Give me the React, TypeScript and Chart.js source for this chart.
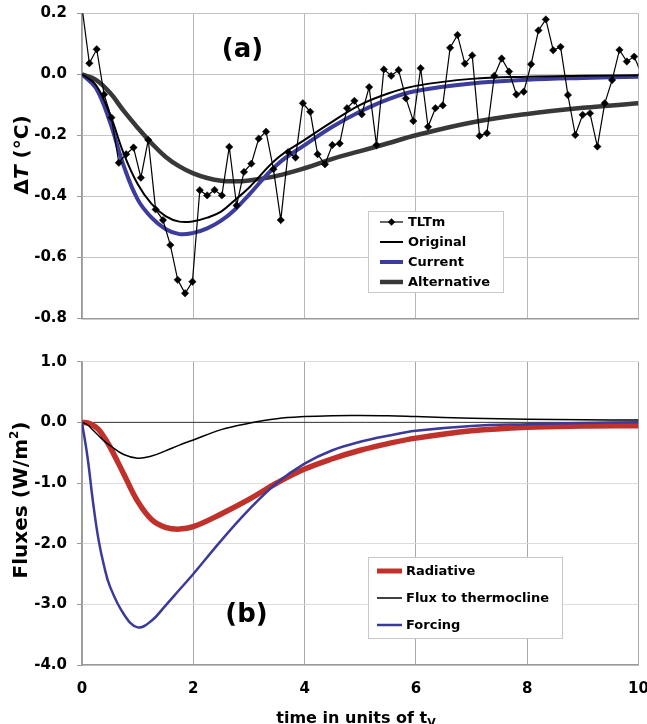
import React, { useEffect, useRef } from "react";
import { Chart, registerables } from "chart.js";

Chart.register(...registerables);

const FONT = "'DejaVu Sans', Verdana, sans-serif";

// ---------- Panel (a): temperature anomaly ----------
// TLTm observations, one value per time step (step in units of t_V)
const TLTM_STEP = 0.1323;
const tltmValues = [
  0.22, 0.036, 0.082, -0.066, -0.142, -0.29, -0.262, -0.24, -0.339, -0.215,
  -0.443, -0.478, -0.56, -0.674, -0.718, -0.68, -0.38, -0.397, -0.379, -0.397,
  -0.238, -0.43, -0.32, -0.293, -0.211, -0.188, -0.311, -0.478, -0.255, -0.273,
  -0.095, -0.123, -0.262, -0.295, -0.232, -0.227, -0.111, -0.087, -0.131, -0.042,
  -0.232, 0.016, -0.005, 0.014, -0.079, -0.153, 0.02, -0.172, -0.111, -0.102,
  0.087, 0.129, 0.035, 0.062, -0.202, -0.193, -0.005, 0.052, 0.009, -0.066,
  -0.057, 0.033, 0.144, 0.18, 0.079, 0.09, -0.068, -0.199, -0.133, -0.128,
  -0.237, -0.095, -0.019, 0.08, 0.042, 0.058, 0.0,
];

// Model curves sampled at these times
const curveTimes = [0, 0.25, 0.5, 0.75, 1, 1.25, 1.5, 1.75, 2, 2.25, 2.5, 2.75, 3, 3.5, 4, 4.5, 5, 5.5, 6, 7, 8, 9, 10];
const originalValues = [0, -0.035, -0.13, -0.26, -0.36, -0.425, -0.465, -0.483, -0.482, -0.47, -0.45, -0.412, -0.372, -0.277, -0.215, -0.155, -0.1, -0.063, -0.038, -0.015, -0.008, -0.005, -0.003];
const currentValues = [0, -0.045, -0.155, -0.3, -0.41, -0.47, -0.507, -0.524, -0.52, -0.505, -0.48, -0.443, -0.395, -0.297, -0.232, -0.172, -0.122, -0.082, -0.055, -0.03, -0.018, -0.012, -0.008];
const alternativeValues = [0, -0.018, -0.06, -0.12, -0.175, -0.226, -0.27, -0.302, -0.325, -0.34, -0.349, -0.351, -0.348, -0.333, -0.308, -0.277, -0.252, -0.226, -0.2, -0.158, -0.13, -0.11, -0.095];

const topTicks = { min: -0.8, max: 0.2, step: 0.2 };

// ---------- Panel (b): fluxes ----------
const fluxTimes = [0, 0.1, 0.2, 0.3, 0.4, 0.5, 0.75, 1, 1.25, 1.5, 1.75, 2, 2.5, 3, 3.5, 4, 4.5, 5, 5.5, 6, 7, 8, 9, 10];
const radiativeValues = [0, -0.01, -0.05, -0.12, -0.25, -0.4, -0.85, -1.3, -1.6, -1.73, -1.76, -1.72, -1.51, -1.27, -1.0, -0.77, -0.6, -0.46, -0.35, -0.26, -0.14, -0.08, -0.06, -0.055];
const thermoclineValues = [0, -0.04, -0.13, -0.22, -0.31, -0.38, -0.53, -0.59, -0.555, -0.47, -0.375, -0.29, -0.12, -0.015, 0.06, 0.095, 0.11, 0.112, 0.108, 0.095, 0.068, 0.05, 0.043, 0.038];
const forcingValues = [0, -0.58, -1.33, -1.95, -2.38, -2.7, -3.16, -3.38, -3.27, -3.02, -2.76, -2.5, -1.95, -1.44, -1.0, -0.68, -0.46, -0.32, -0.22, -0.14, -0.06, -0.03, -0.01, 0.0];
const zeroLineTimes = [0.2, 10];
const zeroLineValues = [0, 0];

const bottomTicks = { min: -4, max: 1, step: 1 };
const xTicks = { min: 0, max: 10, step: 2 };

const COLORS = {
  tltm: "#000000",
  original: "#000000",
  current: "#3c3c9c",
  alternative: "#383838",
  radiative: "#c1312b",
  thermocline: "#000000",
  forcing: "#3a3a9a",
};

const toXY = (xs: number[], ys: number[]) => ys.map((y, i) => ({ x: xs[i], y }));
const fmt1 = (v: any) => (Math.abs(Number(v)) < 1e-9 ? 0 : Number(v)).toFixed(1);

function drawLegend(
  ctx: CanvasRenderingContext2D,
  box: { x: number; y: number; w: number; h: number },
  sx0: number,
  sx1: number,
  tx: number,
  rows: { y: number; label: string; color: string; width: number; marker?: boolean }[]
) {
  ctx.save();
  ctx.fillStyle = "#ffffff";
  ctx.fillRect(box.x, box.y, box.w, box.h);
  ctx.strokeStyle = "#c8c8c8";
  ctx.lineWidth = 1;
  ctx.strokeRect(box.x + 0.5, box.y + 0.5, box.w, box.h);
  ctx.font = `bold 13px ${FONT}`;
  ctx.textBaseline = "middle";
  ctx.textAlign = "left";
  rows.forEach((r) => {
    ctx.strokeStyle = r.color;
    ctx.lineWidth = r.width;
    ctx.beginPath();
    ctx.moveTo(sx0, r.y);
    ctx.lineTo(sx1, r.y);
    ctx.stroke();
    if (r.marker) {
      const cx = (sx0 + sx1) / 2;
      ctx.fillStyle = r.color;
      ctx.beginPath();
      ctx.moveTo(cx, r.y - 3.7);
      ctx.lineTo(cx + 3.7, r.y);
      ctx.lineTo(cx, r.y + 3.7);
      ctx.lineTo(cx - 3.7, r.y);
      ctx.closePath();
      ctx.fill();
    }
    ctx.fillStyle = "#000";
    ctx.fillText(r.label, tx, r.y + 1);
  });
  ctx.restore();
}

type Piece = { text: string; font: string; dy?: number };
function drawPieces(ctx: CanvasRenderingContext2D, pieces: Piece[], cx: number, cy: number, rotate: boolean, baseline: CanvasTextBaseline) {
  ctx.save();
  ctx.translate(cx, cy);
  if (rotate) ctx.rotate(-Math.PI / 2);
  ctx.textBaseline = baseline;
  ctx.textAlign = "left";
  ctx.fillStyle = "#000";
  let total = 0;
  pieces.forEach((p) => {
    ctx.font = p.font;
    total += ctx.measureText(p.text).width;
  });
  let x = -total / 2;
  pieces.forEach((p) => {
    ctx.font = p.font;
    ctx.fillText(p.text, x, p.dy || 0);
    x += ctx.measureText(p.text).width;
  });
  ctx.restore();
}

const topDecor = {
  id: "topDecor",
  afterDatasetsDraw(chart: any) {
    const ctx = chart.ctx as CanvasRenderingContext2D;
    drawLegend(ctx, { x: 368, y: 211, w: 135, h: 81 }, 380, 403, 408, [
      { y: 222, label: "TLTm", color: COLORS.tltm, width: 1.2, marker: true },
      { y: 242, label: "Original", color: COLORS.original, width: 2 },
      { y: 262, label: "Current", color: COLORS.current, width: 4 },
      { y: 282, label: "Alternative", color: COLORS.alternative, width: 4.5 },
    ]);
    ctx.save();
    ctx.font = `bold 26px ${FONT}`;
    ctx.textAlign = "center";
    ctx.textBaseline = "middle";
    ctx.fillStyle = "#000";
    ctx.fillText("(a)", 242.5, 50);
    ctx.restore();
    drawPieces(
      ctx,
      [
        { text: "\u0394", font: `bold 20px ${FONT}` },
        { text: "T", font: `italic bold 20px ${FONT}` },
        { text: " (\u00B0C)", font: `bold 20px ${FONT}` },
      ],
      23,
      155,
      true,
      "middle"
    );
  },
};

const bottomDecor = {
  id: "bottomDecor",
  afterDatasetsDraw(chart: any) {
    const ctx = chart.ctx as CanvasRenderingContext2D;
    drawLegend(ctx, { x: 368, y: 227, w: 194, h: 81 }, 377, 402, 406, [
      { y: 241, label: "Radiative", color: COLORS.radiative, width: 5 },
      { y: 268, label: "Flux to thermocline", color: COLORS.thermocline, width: 1.5 },
      { y: 295, label: "Forcing", color: COLORS.forcing, width: 2.5 },
    ]);
    ctx.save();
    ctx.font = `bold 26px ${FONT}`;
    ctx.textAlign = "center";
    ctx.textBaseline = "middle";
    ctx.fillStyle = "#000";
    ctx.fillText("(b)", 246.5, 285);
    ctx.restore();
    drawPieces(
      ctx,
      [
        { text: "Fluxes (W/m", font: `bold 20px ${FONT}` },
        { text: "2", font: `bold 12px ${FONT}`, dy: -7 },
        { text: ")", font: `bold 20px ${FONT}` },
      ],
      22,
      170,
      true,
      "middle"
    );
    drawPieces(
      ctx,
      [
        { text: "time in units of t", font: `bold 16px ${FONT}` },
        { text: "V", font: `bold 11px ${FONT}`, dy: 3 },
      ],
      356,
      393,
      false,
      "alphabetic"
    );
  },
};

const tickFont = { family: FONT, size: 15, weight: "bold" as const };

function xScale(showLabels: boolean, height: number, vGrid: string) {
  return {
    type: "linear" as const,
    min: xTicks.min,
    max: xTicks.max,
    ticks: {
      stepSize: xTicks.step,
      display: showLabels,
      font: tickFont,
      color: "#000",
      padding: 15,
      maxRotation: 0,
      callback: (v: any) => String(v),
    },
    grid: { color: vGrid, lineWidth: 1, drawTicks: false },
    border: { color: "#999", width: 1.5 },
    afterFit: (s: any) => {
      s.height = height;
      s.paddingLeft = 0;
      s.paddingRight = 0;
    },
  };
}

function yScale(t: { min: number; max: number; step: number }, hGrid: string) {
  return {
    min: t.min,
    max: t.max,
    ticks: { stepSize: t.step, font: tickFont, color: "#000", padding: 10, callback: fmt1 },
    grid: { color: hGrid, lineWidth: 1, tickLength: 5, tickColor: "#999" },
    border: { color: "#999", width: 1.5 },
    afterFit: (s: any) => {
      s.width = 82;
      s.paddingTop = 0;
      s.paddingBottom = 0;
    },
  };
}

const smooth = { pointRadius: 0, tension: 0.4 };

export default function App() {
  const topRef = useRef<HTMLCanvasElement>(null);
  const botRef = useRef<HTMLCanvasElement>(null);

  useEffect(() => {
    const tltmData = tltmValues.map((y, i) => ({ x: i * TLTM_STEP, y }));
    const top = new Chart(topRef.current!, {
      type: "line",
      data: {
        datasets: [
          {
            label: "TLTm",
            data: tltmData,
            borderColor: COLORS.tltm,
            backgroundColor: COLORS.tltm,
            borderWidth: 1.2,
            pointStyle: "rectRot",
            pointRadius: 3.7,
            pointBorderWidth: 0.5,
            tension: 0,
          },
          { label: "Original", data: toXY(curveTimes, originalValues), borderColor: COLORS.original, borderWidth: 2, ...smooth },
          { label: "Current", data: toXY(curveTimes, currentValues), borderColor: COLORS.current, borderWidth: 4, ...smooth },
          { label: "Alternative", data: toXY(curveTimes, alternativeValues), borderColor: COLORS.alternative, borderWidth: 4.5, ...smooth },
        ] as any,
      },
      options: {
        animation: false,
        responsive: false,
        layout: { padding: { left: 0, right: 8.5, top: 13.3, bottom: 0 } },
        plugins: { legend: { display: false }, tooltip: { enabled: false } },
        scales: {
          x: xScale(false, 11.7, "#b8b8b8"),
          y: yScale(topTicks, "#c4c4c4"),
        } as any,
      },
      plugins: [topDecor],
    });

    const bot = new Chart(botRef.current!, {
      type: "line",
      data: {
        datasets: [
          { label: "Forcing", data: toXY(fluxTimes, forcingValues), borderColor: COLORS.forcing, borderWidth: 2.5, ...smooth },
          { label: "Flux to thermocline", data: toXY(fluxTimes, thermoclineValues), borderColor: COLORS.thermocline, borderWidth: 1.5, ...smooth },
          { label: "Radiative", data: toXY(fluxTimes, radiativeValues), borderColor: COLORS.radiative, borderWidth: 5.5, ...smooth },
          { label: "zero", data: toXY(zeroLineTimes, zeroLineValues), borderColor: "#333", borderWidth: 1, pointRadius: 0 },
        ] as any,
      },
      options: {
        animation: false,
        responsive: false,
        layout: { padding: { left: 0, right: 8.5, top: 31.7, bottom: 0 } },
        plugins: { legend: { display: false }, tooltip: { enabled: false } },
        scales: {
          x: xScale(true, 59, "#a8a8a8"),
          y: yScale(bottomTicks, "#dcdcdc"),
        } as any,
      },
      plugins: [bottomDecor],
    });

    return () => {
      top.destroy();
      bot.destroy();
    };
  }, []);

  return (
    <div style={{ position: "fixed", left: 0, top: 0, width: 647, height: 724, background: "#fff", overflow: "hidden" }}>
      <canvas ref={topRef} width={647} height={330} style={{ position: "absolute", left: 0, top: 0, display: "block" }} />
      <canvas ref={botRef} width={647} height={394} style={{ position: "absolute", left: 0, top: 330, display: "block" }} />
    </div>
  );
}
